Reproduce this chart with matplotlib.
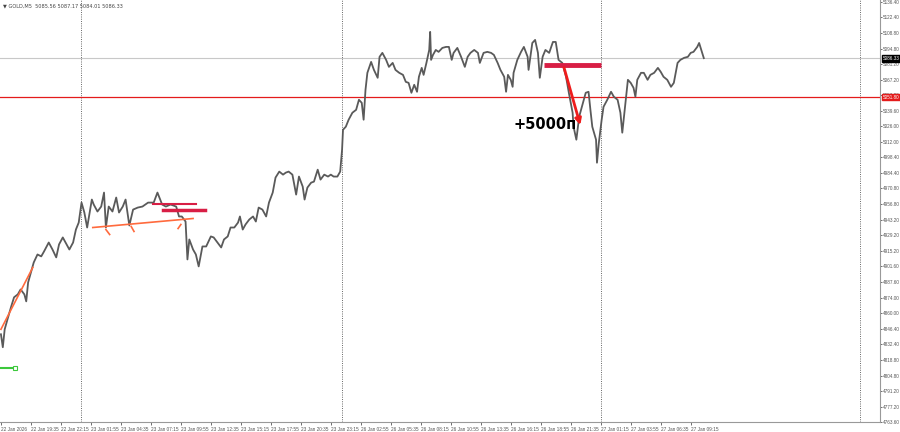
import numpy as np
import matplotlib
matplotlib.use("Agg")
import matplotlib.pyplot as plt

# GOLD M5 closes, sampled every ~3 bars (bar index, price)
bar_idx = [0, 2, 4, 7, 11, 14, 18, 21, 25, 27, 29, 32, 35, 39, 43, 46, 51, 55, 59, 62,
           66, 69, 73, 77, 80, 83, 86, 89, 92, 94, 97, 99, 103, 107, 110, 112, 115, 119, 123, 126,
           130, 133, 137, 141, 146, 151, 157, 163, 167, 172, 176, 181, 187, 190,
           193, 197, 199, 201, 205, 208, 211, 215, 219, 224, 227, 231, 235, 238, 242, 245, 249, 253, 255, 258,
           261, 265, 269, 272, 275, 279, 283, 286, 290, 293, 297, 301, 304, 307, 311, 315, 318, 322, 324, 327,
           331, 334, 338, 341, 345, 349, 352, 355, 359, 362,
           364, 365, 368, 371, 375, 379, 382, 385, 387, 389, 391, 395, 398, 402, 404, 407, 411, 414, 418, 421,
           425, 429, 432, 435, 438, 441, 444, 446, 449, 451, 454, 457, 458, 459, 461, 464, 467, 471, 475, 478,
           481, 483, 487, 491, 495, 498, 501, 505, 509, 511, 515, 519, 523, 526, 530, 533, 537, 539, 541, 544,
           546, 547, 551, 555, 558, 562, 563, 567, 570, 573, 575,
           578, 581, 585, 589, 592, 595, 599, 603, 606, 610, 611, 614, 617, 621, 624, 627, 629, 631, 635, 636,
           638, 641, 643, 647, 651, 654, 658, 661, 663, 666, 669, 672, 675, 677, 679, 683, 686, 690, 693, 697,
           701, 704, 707, 711, 715, 718, 722, 725, 729, 733, 736, 739, 743, 745, 748, 750]
close = [4841.4, 4829.9, 4845.8, 4854.7, 4866.2, 4874.2, 4876.8, 4881.2, 4876.8, 4870.6,
         4887.4, 4896.3, 4905.1, 4912.2, 4910.5, 4914.9, 4922.8, 4916.6, 4909.6, 4921.1,
         4927.3, 4922.8, 4916.6, 4922.8, 4934.3, 4940.5, 4958.2, 4949.4, 4936.1, 4945.9,
         4960.9, 4956.5, 4950.3, 4954.7, 4967.1, 4936.1, 4954.7, 4950.3, 4962.7, 4949.4,
         4954.7, 4960.9, 4937.9, 4952.0, 4953.8, 4954.7, 4958.2, 4958.2, 4967.1, 4956.5,
         4954.7, 4956.5, 4954.7, 4945.9,
         4945.9, 4941.4, 4907.8, 4925.5, 4916.6, 4912.2, 4901.6, 4919.3, 4919.3, 4928.2,
         4927.3, 4922.8, 4918.4, 4925.5, 4928.2, 4936.1, 4936.1, 4940.5, 4945.9, 4934.3,
         4938.8, 4943.2, 4945.9, 4941.4, 4953.8, 4952.0, 4945.9, 4958.2, 4967.1, 4980.4,
         4985.7, 4983.0, 4984.8, 4985.7, 4983.0, 4965.3, 4981.3, 4972.4, 4960.9, 4971.5,
         4975.9, 4976.8, 4987.4, 4978.6, 4983.0, 4981.3, 4983.0, 4981.3, 4981.3, 4985.7,
         5005.1, 5022.8, 5025.5, 5031.7, 5037.9, 5040.5, 5049.4, 5046.7, 5031.7, 5058.2,
         5073.3, 5083.0, 5075.9, 5068.9, 5087.5, 5091.0, 5084.8, 5078.6, 5082.1, 5075.9,
         5073.3, 5071.5, 5065.3, 5064.4, 5055.6, 5062.7, 5056.5, 5069.8, 5077.7, 5071.5,
         5082.1, 5093.6, 5109.6, 5084.8, 5089.2, 5093.6, 5091.9, 5095.4, 5096.3, 5096.3,
         5084.8, 5091.0, 5095.4, 5087.5, 5078.6, 5087.5, 5091.0, 5093.6, 5091.0, 5082.1,
         5091.0, 5091.9, 5091.0, 5089.2, 5082.1, 5075.9, 5069.8, 5056.5, 5071.5, 5067.1,
         5060.9, 5073.3, 5084.8, 5091.9, 5096.3, 5087.5, 5075.9, 5099.8, 5102.5, 5091.0,
         5068.9,
         5087.5, 5093.6, 5091.0, 5100.7, 5100.7, 5084.8, 5082.1, 5069.8, 5055.6, 5037.9,
         5025.5, 5014.0, 5034.4, 5046.7, 5055.6, 5056.5, 5040.5, 5025.5, 5014.0, 4993.6,
         5011.3, 5031.7, 5043.2, 5049.4, 5056.5, 5052.1, 5049.4, 5037.9, 5020.2, 5043.2,
         5067.1, 5064.4, 5060.0, 5052.1, 5067.1, 5073.3, 5073.3, 5067.1, 5071.5, 5073.3,
         5077.7, 5074.2, 5069.8, 5067.1, 5060.9, 5064.4, 5082.1, 5084.8, 5086.6, 5087.5,
         5091.0, 5091.9, 5096.3, 5099.8, 5091.9, 5086.33]

tick_labels = ["22 Jan 2026", "22 Jan 19:35", "22 Jan 22:15", "23 Jan 01:55", "23 Jan 04:35",
               "23 Jan 07:15", "23 Jan 09:55", "23 Jan 12:35", "23 Jan 15:15", "23 Jan 17:55",
               "23 Jan 20:35", "23 Jan 23:15", "26 Jan 02:55", "26 Jan 05:35", "26 Jan 08:15",
               "26 Jan 10:55", "26 Jan 13:35", "26 Jan 16:15", "26 Jan 18:55", "26 Jan 21:35",
               "27 Jan 01:15", "27 Jan 03:55", "27 Jan 06:35", "27 Jan 09:15"]
price_ticks = [5136.40, 5122.40, 5108.80, 5094.80, 5081.20, 5067.20, 5053.20, 5039.60,
               5026.00, 5012.00, 4998.40, 4984.40, 4970.80, 4956.80, 4943.20, 4929.20,
               4915.20, 4901.60, 4887.60, 4874.00, 4860.00, 4846.40, 4832.40, 4818.80,
               4804.80, 4791.20, 4777.20, 4763.60]
day_breaks = [85, 364, 640, 917]
bid = 5086.33
level = 5051.80
header = "\u25bc GOLD,M5  5085.56 5087.17 5084.01 5086.33"

plt.rcParams['font.family'] = ['Liberation Sans', 'DejaVu Sans']

fig = plt.figure(figsize=(9, 4.32), dpi=100)
ax = fig.add_axes([0, 10 / 432, 880 / 900, 422 / 432])

ax.plot(bar_idx, close, color="#5a5a5a", lw=1.3, zorder=3)

for b in day_breaks:
    ax.axvline(b, color="#555555", lw=0.6, ls=(0, (1.2, 1.5)), zorder=1)

ax.axhline(bid, color="#c8c8c8", lw=0.8, zorder=2)
ax.axhline(level, color="#e41b1b", lw=0.9, zorder=2)

# drawn levels / trend lines
ax.plot([162, 208], [4957.4, 4957.4], color="#d81e45", lw=1.5, zorder=4)
ax.plot([173, 218], [4951.2, 4951.2], color="#d81e45", lw=2.5, zorder=4)
ax.plot([98, 205], [4936.1, 4944.1], color="#ff6a3d", lw=1.2, zorder=4)
for x0, y0, x1, y1 in [(112, 4934.3, 116, 4929.9), (139, 4937.0, 142, 4932.6), (189, 4935.2, 192, 4938.8)]:
    ax.plot([x0, x1], [y0, y1], color="#ff6a3d", lw=1.2, zorder=4)
ax.plot([0, 34], [4845.8, 4900.7], color="#ff6a3d", lw=1.2, zorder=4)
ax.plot([0, 15], [4811.3, 4811.3], color="#3cc83c", lw=1.5, zorder=4)
ax.plot([15], [4811.3], marker="s", ms=2.5, mfc="white", mec="#3cc83c", mew=0.8, zorder=5)

ax.plot([579, 640], [5080.4, 5080.4], color="#d81e45", lw=3.5, solid_capstyle="butt", zorder=5)
ax.annotate("", xy=(619, 5024.6), xytext=(600, 5080.4),
            arrowprops=dict(arrowstyle="-|>", color="#ee1c1c", lw=2, mutation_scale=9), zorder=6)
ax.text(547, 5027.3, "+5000п", fontsize=10.5, fontweight="bold", color="black",
        family=["DejaVu Sans"], ha="left", va="center", zorder=6)

ax.set_xlim(-1, 938)
ax.set_ylim(4764.0, 5137.9)

ax.yaxis.tick_right()
ax.set_yticks(price_ticks)
ax.set_yticklabels([f"{p:.2f}" for p in price_ticks])
ax.set_xticks(np.arange(len(tick_labels)) * 32)
ax.set_xticklabels(tick_labels, ha="left")
ax.tick_params(axis="y", labelsize=3.3, colors="#555555", length=1.5, width=0.6, pad=0.6)
ax.tick_params(axis="x", labelsize=3.4, colors="#555555", length=2.5, width=0.6, pad=1)

for s in ["left", "top"]:
    ax.spines[s].set_visible(False)
for s in ["right", "bottom"]:
    ax.spines[s].set_color("#999999")
    ax.spines[s].set_linewidth(0.8)

# price boxes on the right scale
for val, fc in [(bid, "black"), (level, "#e41b1b")]:
    ax.text(1.003, val, f"{val:.2f}", transform=ax.get_yaxis_transform(), fontsize=3.3,
            color="white", ha="left", va="center", clip_on=False, zorder=10,
            bbox=dict(boxstyle="square,pad=0.2", fc=fc, ec=fc))

fig.text(0.003, 0.992, header, fontsize=3.6, color="#444444", ha="left", va="top",
         family=["DejaVu Sans"])

fig.savefig("out.png", dpi=100, facecolor="white")
